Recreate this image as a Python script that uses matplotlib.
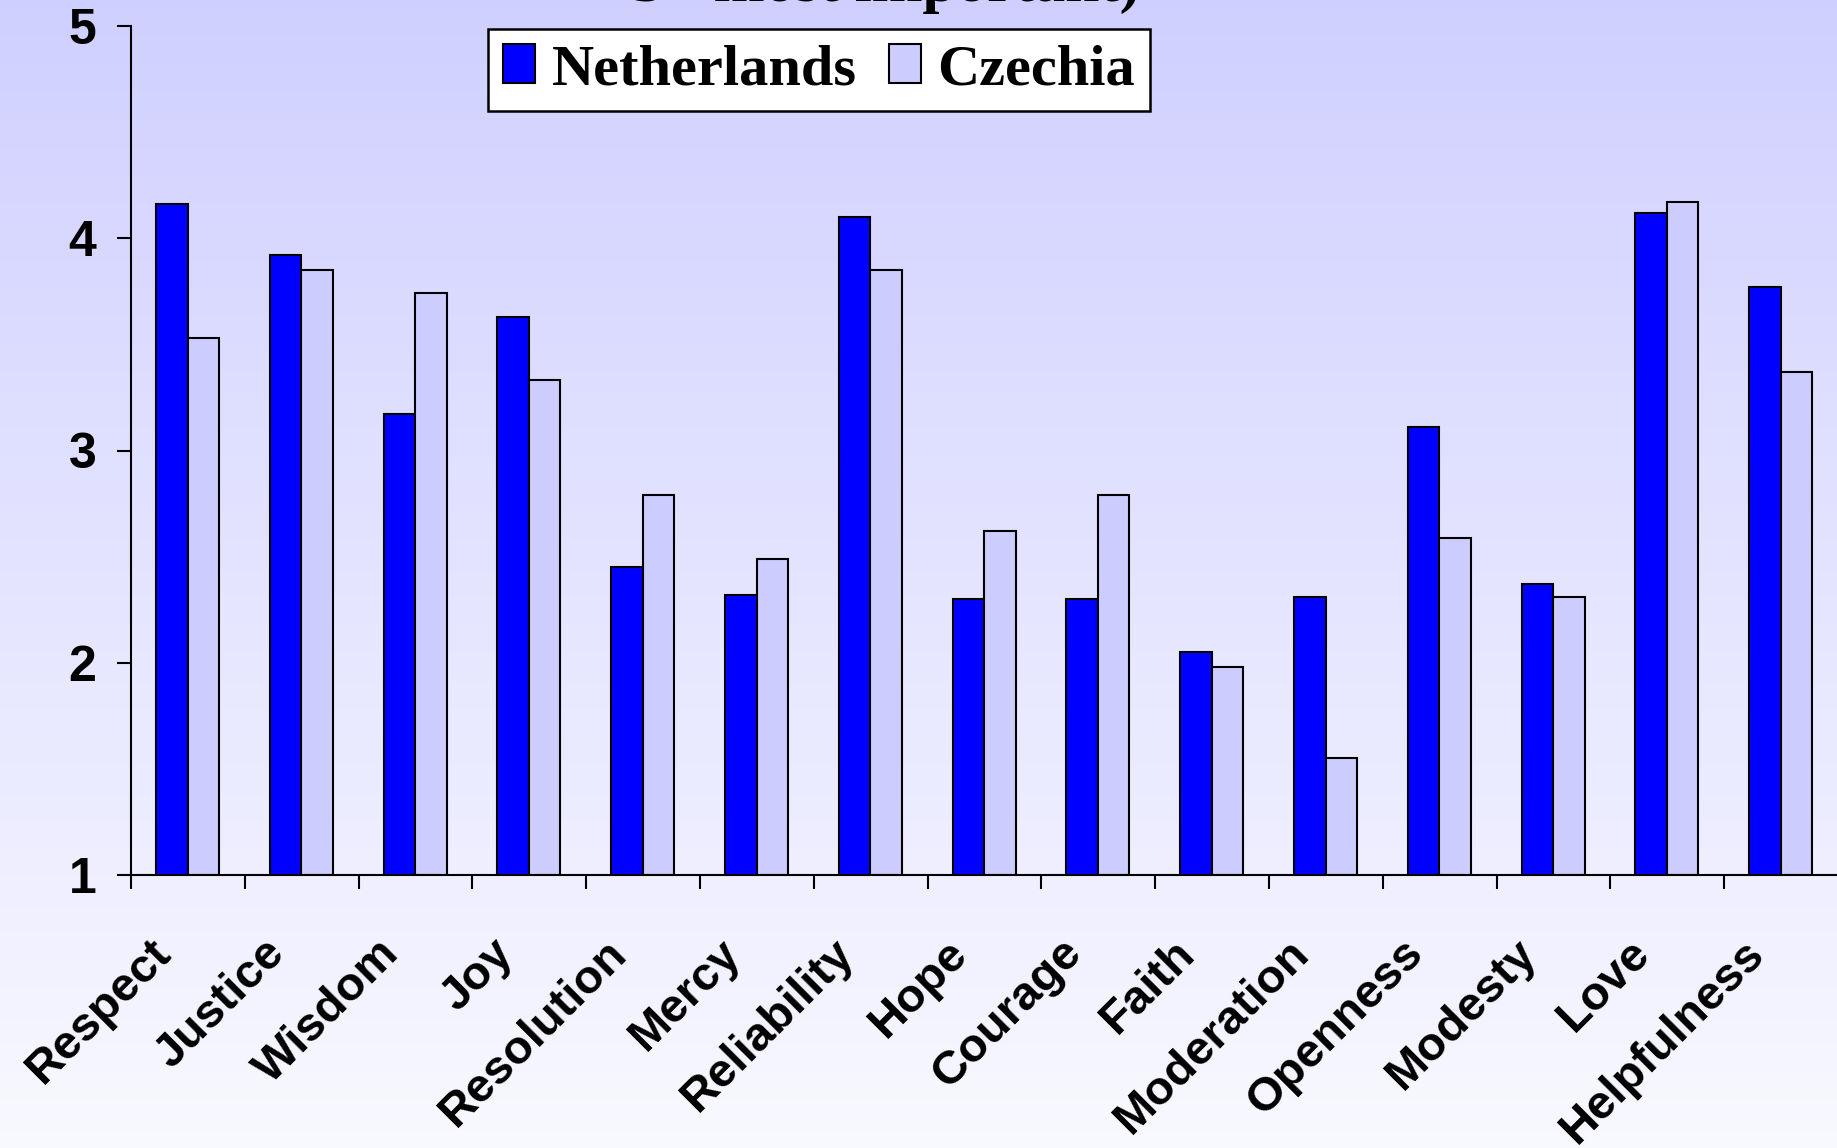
import numpy as np
import matplotlib
matplotlib.use("Agg")
import matplotlib.pyplot as plt
from matplotlib.transforms import ScaledTranslation
from matplotlib.patches import Patch

categories = ["Respect", "Justice", "Wisdom", "Joy", "Resolution", "Mercy",
              "Reliability", "Hope", "Courage", "Faith", "Moderation",
              "Openness", "Modesty", "Love", "Helpfulness"]
netherlands = [4.16, 3.92, 3.17, 3.63, 2.45, 2.32, 4.10, 2.30, 2.30, 2.05,
               2.31, 3.11, 2.37, 4.12, 3.77]
czechia = [3.53, 3.85, 3.74, 3.33, 2.79, 2.49, 3.85, 2.62, 2.79, 1.98,
           1.55, 2.59, 2.31, 4.17, 3.37]
series_names = ["Netherlands", "Czechia"]
yticks = [1, 2, 3, 4, 5]
title_line = "5= most important)"

DPI = 100
fig = plt.figure(figsize=(18.37, 11.48), dpi=DPI)

# background gradient
bg = fig.add_axes([0, 0, 1, 1], zorder=-10)
top = np.array([0.815, 0.815, 1.0])
bot = np.array([0.975, 0.975, 1.0])
t = np.linspace(0, 1, 256)[:, None]
grad = top[None, :] * (1 - t) + bot[None, :] * t
bg.imshow(grad[:, None, :], aspect="auto", extent=[0, 1, 0, 1], origin="upper")
bg.set_axis_off()

ax = fig.add_axes([131 / 1837, 273 / 1148, (1838 - 131) / 1837, (1122 - 273) / 1148])
ax.patch.set_alpha(0)

x = np.arange(len(categories))
w = 0.277
ax.bar(x + 0.497 - w / 2, [v - 1 for v in netherlands], width=w, bottom=1,
       color="#0000FF", edgecolor="black", linewidth=1.5, label=series_names[0])
ax.bar(x + 0.497 + w / 2, [v - 1 for v in czechia], width=w, bottom=1,
       color="#CCCCFF", edgecolor="black", linewidth=1.5, label=series_names[1])

ax.set_xlim(0, len(categories))
ax.set_ylim(1, 5)
ax.set_yticks(yticks)
ax.set_yticklabels([str(v) for v in yticks], fontsize=36, fontweight="bold",
                   family="Liberation Sans")
ax.set_xticks(np.arange(len(categories)))
ax.set_xticklabels([])
ax.tick_params(axis="both", direction="out", length=10, width=1.5, color="black")
ax.tick_params(axis="y", pad=15)
for s in ["top", "right"]:
    ax.spines[s].set_visible(False)
for s in ["left", "bottom"]:
    ax.spines[s].set_linewidth(1.5)

trans = ax.get_xaxis_transform() + ScaledTranslation(-15 / DPI, -80 / DPI, fig.dpi_scale_trans)
for i, c in enumerate(categories):
    ax.text(i + 0.5, 0, c, transform=trans, rotation=45, rotation_mode="anchor",
            ha="right", va="baseline", fontsize=34, fontweight="bold",
            family="Liberation Sans")

handles = [Patch(facecolor="#0000FF", edgecolor="black", linewidth=1.5),
           Patch(facecolor="#CCCCFF", edgecolor="black", linewidth=1.5)]
leg = fig.legend(handles, series_names, loc="upper left",
                 bbox_to_anchor=(488 / 1837, 1 - 29 / 1148), ncol=2,
                 prop={"family": "Liberation Serif", "weight": "bold", "size": 42},
                 handlelength=0.55, handleheight=0.65, handletextpad=0.28,
                 columnspacing=0.55, borderpad=0.26, fancybox=False, framealpha=1,
                 edgecolor="black", borderaxespad=0)
leg.get_frame().set_linewidth(1.8)

fig.text(1140 / 1837, 1 - 1 / 1148, title_line, ha="right", va="baseline",
         fontsize=44, fontweight="bold", family="Liberation Serif")

fig.savefig("out.png", dpi=DPI)
